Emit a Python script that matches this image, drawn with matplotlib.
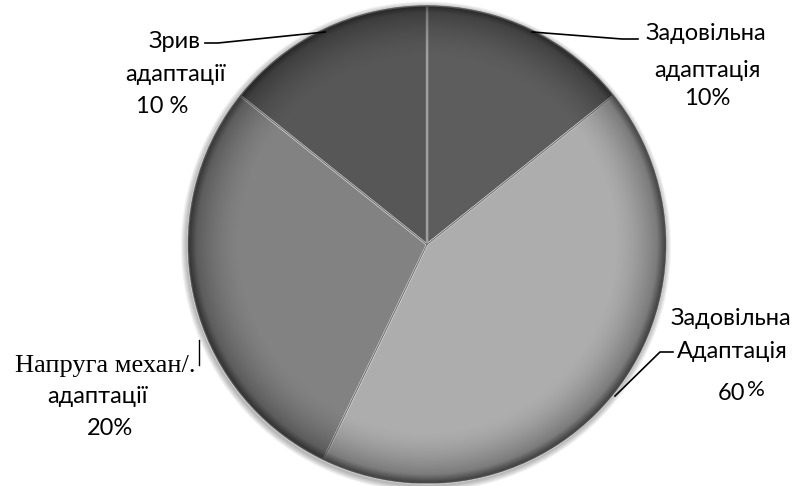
import numpy as np
import matplotlib
matplotlib.use("Agg")
import matplotlib.pyplot as plt
from matplotlib.patches import Circle, Wedge

# shares of pupils per adaptation level (slice sizes)
groups = ["Задовільна адаптація", "Задовільна Адаптація", "Напруга механ/. адаптації", "Зрив адаптації"]
counts = [1, 3, 2, 1]
colors = ["#5d5d5d", "#adadad", "#828282", "#575757"]

W, H = 800, 486
cx, cy, R = 427, H - 244.5, 239


def px(x, y):
    # pixel position measured from the top-left corner -> data coords
    return x, H - y


fig = plt.figure(figsize=(W / 100, H / 100), dpi=100)
ax = fig.add_axes([0, 0, 1, 1])

# soft drop shadow under the pie
for k in range(6):
    ax.add_patch(Circle((cx - 1, cy - 2), R + 1 + k, color="black",
                        alpha=0.05, lw=0, zorder=0))
ax.add_patch(Circle((cx, cy), R + 0.5, color="white", lw=0, zorder=0.5))

wedges, _ = ax.pie(counts, colors=colors, startangle=90, counterclock=False,
                   center=(cx, cy), radius=R,
                   wedgeprops=dict(edgecolor="#d0d0d0", linewidth=1.6))
for w in wedges:
    w.set_zorder(1)

# darken towards the rim to give the rounded look
n = 500
xs = np.linspace(cx - R, cx + R, n)
ys = np.linspace(cy - R, cy + R, n)
X, Y = np.meshgrid(xs, ys)
r = np.hypot(X - cx, Y - cy) / R
shade = np.zeros((n, n, 4))
a = np.clip((r - 0.78) / 0.22, 0, 1) ** 1.6 * 0.38
a += np.clip((r - 0.965) / 0.035, 0, 1) * 0.25
shade[..., 3] = np.clip(a, 0, 1)
im = ax.imshow(shade, extent=(cx - R, cx + R, cy - R, cy + R), origin="lower",
               zorder=2, interpolation="bilinear")
im.set_clip_path(Circle((cx, cy), R, transform=ax.transData))

# dark seams between slices
for w in wedges:
    ax.add_patch(Wedge((cx, cy), R, w.theta1, w.theta2, fill=False,
                       edgecolor="#3a3a3a", linewidth=0.5, alpha=0.5, zorder=3))

sans = ["Lato", "DejaVu Sans"]
serif = ["Liberation Serif", "DejaVu Serif"]
fs = 17
kw = dict(family=sans, fontsize=fs, ha="center", va="baseline", color="black", zorder=5)

# top-right label
ax.text(*px(706, 40.5), "Задовільна", **kw)
ax.text(*px(707, 77), "адаптація", **kw)
ax.text(*px(707, 105), "10%", **kw)
ax.plot(*zip(px(532, 32), px(622, 39), px(638, 39)), color="black", lw=1.2, zorder=5)

# top-left label
ax.text(*px(175, 48), "Зрив", **kw)
ax.text(*px(176, 81), "адаптації", **kw)
ax.text(*px(162, 113), "10 %", **kw)
ax.plot(*zip(px(205, 43), px(218, 43), px(325, 32)), color="black", lw=1.2, zorder=5)

# right label
ax.text(*px(731, 325), "Задовільна", **kw)
ax.text(*px(732, 358), "Адаптація", **kw)
ax.text(*px(745, 400), "60", family=sans, fontsize=fs, ha="right", va="baseline", zorder=5)
ax.text(*px(747, 396), "%", family=sans, fontsize=fs - 1, ha="left", va="baseline", zorder=5)
ax.plot(*zip(px(673, 352), px(660, 352), px(615, 396)), color="black", lw=1.2, zorder=5)

# left label
ax.text(*px(105, 372), "Напруга механ/.", family=serif, fontsize=19, ha="center",
        va="baseline", zorder=5)
ax.text(*px(97, 403), "адаптації", **kw)
ax.text(*px(110, 435), "20%", **kw)
ax.plot(*zip(px(199, 340), px(199, 365)), color="black", lw=1.0, zorder=5)

ax.set_xlim(0, W)
ax.set_ylim(0, H)
ax.set_aspect("auto")
ax.axis("off")
fig.savefig("out.png", dpi=100, facecolor="white")
